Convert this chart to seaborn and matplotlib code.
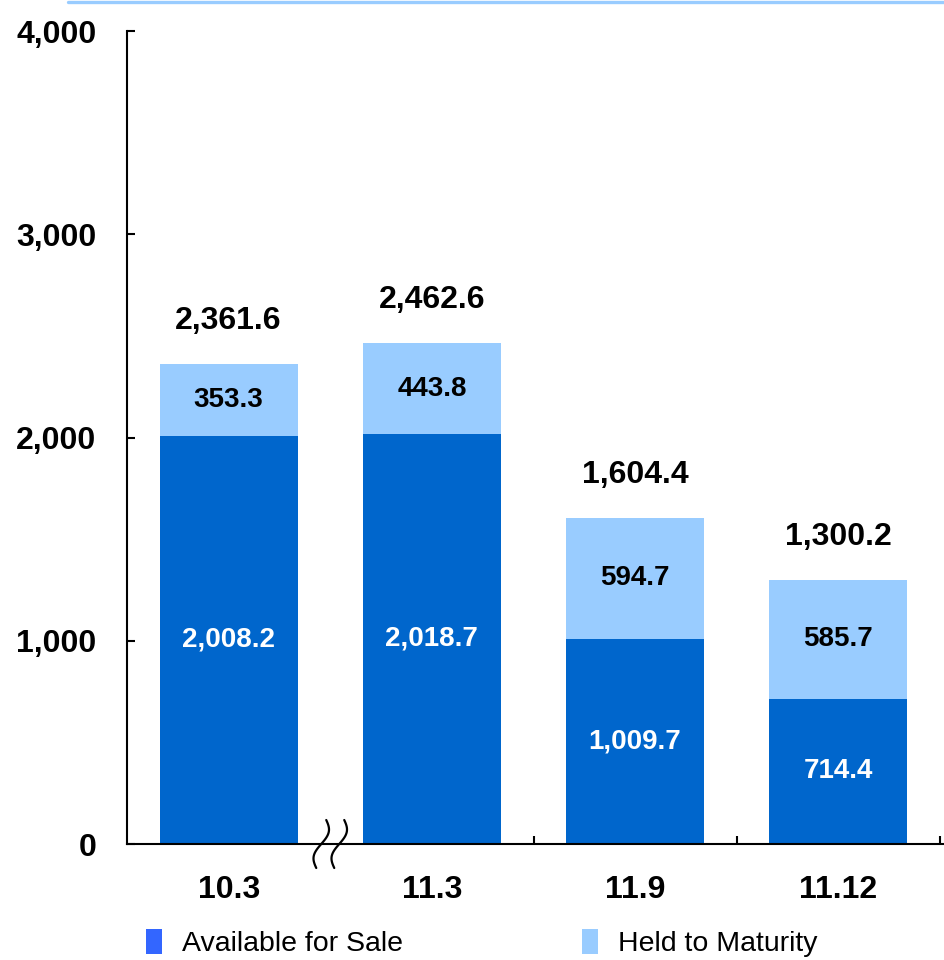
import numpy as np
import pandas as pd
import matplotlib
matplotlib.use("Agg")
import matplotlib.pyplot as plt
import seaborn as sns
from matplotlib.patches import Patch
from matplotlib.lines import Line2D

categories = ["10.3", "11.3", "11.9", "11.12"]
afs = [2008.2, 2018.7, 1009.7, 714.4]
htm = [353.3, 443.8, 594.7, 585.7]
totals = [2361.6, 2462.6, 1604.4, 1300.2]
series_names = ["Available for Sale", "Held to Maturity"]
yticks = [0, 1000, 2000, 3000, 4000]

DARK = "#0066CC"
LIGHT = "#99CCFF"
LEG_DARK = "#3366FF"

sns.set_style("white")
plt.rcParams["font.family"] = ["Liberation Sans", "DejaVu Sans"]
plt.rcParams["text.color"] = "black"
plt.rcParams["xtick.color"] = "black"
plt.rcParams["ytick.color"] = "black"
plt.rcParams["xtick.labelcolor"] = "black"
plt.rcParams["ytick.labelcolor"] = "black"

df = pd.DataFrame({"cat": categories, "afs": afs, "htm": htm, "total": totals})
df["stack"] = df["afs"] + df["htm"]

fig = plt.figure(figsize=(9.44, 9.6), dpi=100)
ax = fig.add_axes([127 / 944, 116 / 960, 1 - 127 / 944, (844 - 31) / 960])

sns.barplot(data=df, x="cat", y="stack", color=LIGHT, saturation=1, width=0.68,
            ax=ax, linewidth=0, order=categories)
sns.barplot(data=df, x="cat", y="afs", color=DARK, saturation=1, width=0.68,
            ax=ax, linewidth=0, order=categories)

ax.set_xlim(-0.5, -0.5 + 817 / 203.25)
ax.set_ylim(0, 4000)
ax.set_xlabel("")
ax.set_ylabel("")

for s in ["top", "right"]:
    ax.spines[s].set_visible(False)
for s in ["left", "bottom"]:
    ax.spines[s].set_color("black")
    ax.spines[s].set_linewidth(1.5)

ax.set_yticks(yticks)
ax.set_yticklabels([f"{v:,}" for v in yticks], fontsize=23, fontweight="bold", color="black")
ax.tick_params(axis="y", direction="in", length=6, width=1.5, pad=22, left=True)
ax.set_xticks(range(len(categories)))
ax.set_xticklabels(categories, fontsize=23, fontweight="bold", color="black")
ax.tick_params(axis="x", which="major", length=0, pad=22)
ax.set_xticks([1.5, 2.5, 3.5], minor=True)
ax.tick_params(axis="x", which="minor", direction="in", length=6, width=1.5, bottom=True)

for i in range(len(categories)):
    ax.text(i, afs[i] / 2, f"{afs[i]:,.1f}", ha="center", va="center",
            color="white", fontsize=20, fontweight="bold")
    ax.text(i, afs[i] + htm[i] / 2, f"{htm[i]:,.1f}", ha="center", va="center",
            color="black", fontsize=20, fontweight="bold")
    ax.annotate(f"{totals[i]:,.1f}", xy=(i, afs[i] + htm[i]), xytext=(0, 31),
                textcoords="offset points", ha="center", va="center",
                fontsize=23, fontweight="bold", color="black")

# axis break symbol at the boundary between first two categories
fig.canvas.draw()
bx, by = ax.transData.transform((0.5, 0))
t = np.linspace(0, 1, 60)
for off in (-9, 9):
    dx = off + 5 - 10 * t + 5 * np.sin(2 * np.pi * t)
    dy = 24 - 48 * t
    ax.add_line(Line2D(bx + dx, by + dy, transform=None, color="black",
                       lw=1.6, clip_on=False))

# top decorative line
fig.add_artist(Line2D([68 / 944, 1.0], [1 - 1.5 / 960, 1 - 1.5 / 960],
                      transform=fig.transFigure, color=LIGHT, lw=2.4))

handles = [Patch(facecolor=LEG_DARK, edgecolor="none"),
           Patch(facecolor=LIGHT, edgecolor="none")]
fig.legend(handles, series_names, loc="center left",
           bbox_to_anchor=(146 / 944, 1 - 943 / 960), ncol=2, frameon=False,
           fontsize=20.5, handlelength=0.55, handleheight=1.0, handletextpad=0.7,
           columnspacing=6.3, borderpad=0, borderaxespad=0, labelcolor="black")

fig.savefig("out.png", dpi=100)
